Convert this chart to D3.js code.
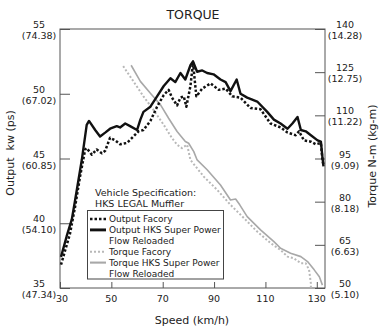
<!DOCTYPE html>
<html>
<head>
<meta charset="utf-8">
<script src="https://cdn.jsdelivr.net/npm/d3@7"></script>
<style>
  html, body { margin: 0; padding: 0; background: #fff; }
  svg text { font-family: "DejaVu Sans", Verdana, sans-serif; fill: #222; }
</style>
</head>
<body>
<svg id="chart" width="385" height="330"></svg>
<script>
// Output (kW) vs speed (km/h)
const outFactorySpeed = [30.4,32.0,33.9,35.9,37.8,39.8,40.4,42.4,44.3,46.3,47.6,49.5,51.5,53.4,56.1,58.6,60.6,62.5,65.2,67.8,70.4,72.3,73.6,75.6,76.9,78.2,79.2,80.8,81.8,83.1,85.4,88.6,91.8,94.5,97.1,100.3,104.2,108.1,112.0,115.9,118.6,121.8,123.1,125.0,127.7,129.6,131.6,132.2,132.6];
const outFactoryKw    = [36.8,37.9,39.2,41.3,43.6,45.7,45.8,45.3,45.7,45.4,45.6,46.6,46.4,46.1,46.2,46.7,47.1,47.2,47.9,49.0,49.9,50.3,49.7,49.1,49.7,49.8,49.0,50.6,52.4,49.8,50.4,50.8,50.3,50.4,49.8,49.7,48.9,48.8,47.7,47.4,47.0,46.8,47.1,46.4,46.3,46.1,46.2,44.9,44.5];

const outHksSpeed = [30.4,32.6,34.6,35.9,38.5,40.4,41.3,43.7,45.6,47.6,49.5,52.1,53.4,55.4,57.3,60.0,61.3,62.5,65.2,67.8,70.4,73.0,74.9,76.9,78.8,80.8,81.8,83.4,85.4,87.3,89.8,92.5,94.5,96.4,98.8,100.3,102.9,106.8,110.7,113.3,115.9,118.6,120.5,122.5,123.8,125.7,127.7,130.3,131.6,132.2,132.6];
const outHksKw    = [37.4,39.0,40.3,41.8,44.9,47.6,47.9,47.2,46.7,47.0,47.3,47.5,47.4,47.7,47.5,47.2,48.0,48.6,49.0,49.8,50.6,51.2,50.9,51.6,51.1,52.2,52.5,51.7,51.8,51.6,51.5,51.1,50.9,50.2,51.1,50.0,49.7,49.4,48.6,48.0,47.7,47.3,47.7,48.2,47.2,47.1,46.8,46.4,46.3,45.1,44.4];

// Torque (N-m) vs speed (km/h)
const torqueFactorySpeed = [54.6,58.6,62.5,66.4,70.4,73.6,75.6,77.5,79.5,80.8,86.0,91.2,96.4,101.6,106.8,112.0,115.9,118.6,121.1,123.8,125.7,127.0,127.7,127.7];
const torqueFactoryNm    = [127.1,121.8,116.6,111.9,106.7,102.1,99.8,98.6,99.8,94.5,88.7,84.1,78.9,74.3,69.6,65.6,63.2,60.9,60.3,58.6,58.6,56.3,51.6,50.0];

const torqueHksSpeed = [57.7,61.3,65.2,69.1,72.3,75.6,78.8,80.1,82.1,83.4,87.3,92.5,96.4,98.4,100.0,102.9,108.1,113.3,115.9,119.8,123.8,126.4,129.0,131.0,132.2];
const torqueHksNm    = [127.4,121.8,117.7,113.7,109.0,104.4,100.9,100.3,97.4,94.5,91.1,85.8,80.6,80.9,78.9,74.8,70.2,66.1,63.8,62.1,60.9,59.2,56.3,53.9,51.0];

// Axis ticks
const speedTicks = [30, 50, 70, 90, 110, 130];
const kwTicks = [35, 40, 45, 50, 55];
const psLabels = ["(47.34)", "(54.10)", "(60.85)", "(67.02)", "(74.38)"];
const nmTicks = [50, 65, 80, 95, 110, 125, 140];
const kgmLabels = ["(5.10)", "(6.63)", "(8.18)", "(9.09)", "(11.22)", "(12.75)", "(14.28)"];

const legendTitle = ["Vehicle Specification:", "HKS LEGAL Muffler"];
const legendItems = [
  ["Output Facory"],
  ["Output HKS Super Power", "Flow Reloaded"],
  ["Torque Facory"],
  ["Torque HKS Super Power", "Flow Reloaded"]
];

const svg = d3.select("#chart");
const plotLeft = 60, plotRight = 325, plotTop = 29, plotBottom = 288;

const x = d3.scaleLinear().domain([30, 133.2]).range([plotLeft, plotRight]);
const yKw = d3.scaleLinear().domain([35, 55]).range([plotBottom, plotTop]);
const yNm = d3.scaleLinear().domain([50, 140]).range([plotBottom, plotTop]);

const axisColor = "#555";

// Frame
svg.append("rect")
  .attr("x", plotLeft).attr("y", plotTop)
  .attr("width", plotRight - plotLeft).attr("height", plotBottom - plotTop)
  .attr("fill", "none").attr("stroke", axisColor).attr("stroke-width", 1);

// Left axis: inward ticks, two-line labels
const gL = svg.append("g").attr("transform", `translate(${plotLeft},0)`)
  .call(d3.axisRight(yKw).tickValues(kwTicks).tickSize(10).tickFormat(""));
gL.select(".domain").remove();
gL.selectAll("line").attr("stroke", axisColor);
kwTicks.forEach((v, i) => {
  const t = svg.append("text").attr("text-anchor", "middle").attr("font-size", 9.5);
  t.append("tspan").attr("x", 39).attr("y", yKw(v) - 1).text(v);
  t.append("tspan").attr("x", 39).attr("y", yKw(v) + 10).text(psLabels[i]);
});

// Right axis
const gR = svg.append("g").attr("transform", `translate(${plotRight},0)`)
  .call(d3.axisLeft(yNm).tickValues(nmTicks).tickSize(10).tickFormat(""));
gR.select(".domain").remove();
gR.selectAll("line").attr("stroke", axisColor);
nmTicks.forEach((v, i) => {
  const t = svg.append("text").attr("text-anchor", "middle").attr("font-size", 9.5);
  t.append("tspan").attr("x", 345).attr("y", yNm(v) - 1).text(v);
  t.append("tspan").attr("x", 345).attr("y", yNm(v) + 10).text(kgmLabels[i]);
});

// Bottom axis
const gB = svg.append("g").attr("transform", `translate(0,${plotBottom})`)
  .call(d3.axisTop(x).tickValues(speedTicks).tickSize(6).tickFormat(""));
gB.select(".domain").remove();
gB.selectAll("line").attr("stroke", axisColor);
svg.append("g").selectAll("text").data(speedTicks).join("text")
  .attr("x", d => x(d) + (d === 30 ? 2 : 0)).attr("y", 302)
  .attr("text-anchor", "middle").attr("font-size", 9.5)
  .text(d => d);

// Titles
svg.append("text").attr("x", 193).attr("y", 19).attr("text-anchor", "middle")
  .attr("font-size", 12.5).text("TORQUE");
svg.append("text").attr("x", 192).attr("y", 324).attr("text-anchor", "middle")
  .attr("font-size", 11).text("Speed (km/h)");
svg.append("text").attr("transform", "translate(14,153) rotate(-90)")
  .attr("text-anchor", "middle").attr("font-size", 11).attr("xml:space", "preserve")
  .text("Output  kw (ps)");
svg.append("text").attr("transform", "translate(376,156) rotate(-90)")
  .attr("text-anchor", "middle").attr("font-size", 11)
  .text("Torque N-m (kg-m)");

// Series
const toPts = (xs, ys) => xs.map((s, i) => [s, ys[i]]);
const lineKw = d3.line().x(d => x(d[0])).y(d => yKw(d[1]));
const lineNm = d3.line().x(d => x(d[0])).y(d => yNm(d[1]));

const series = [
  { pts: toPts(torqueFactorySpeed, torqueFactoryNm), gen: lineNm, color: "#b8b8b8", w: 2, dash: "2,2" },
  { pts: toPts(torqueHksSpeed, torqueHksNm), gen: lineNm, color: "#a8a8a8", w: 1.6, dash: null },
  { pts: toPts(outFactorySpeed, outFactoryKw), gen: lineKw, color: "#111", w: 2.5, dash: "2.5,2" },
  { pts: toPts(outHksSpeed, outHksKw), gen: lineKw, color: "#111", w: 2.4, dash: null }
];
series.forEach(s => {
  svg.append("path").attr("d", s.gen(s.pts))
    .attr("fill", "none").attr("stroke", s.color).attr("stroke-width", s.w)
    .attr("stroke-linejoin", "round")
    .attr("stroke-dasharray", s.dash);
});

// Legend
legendTitle.forEach((t, i) => {
  svg.append("text").attr("x", 95).attr("y", 196 + i * 11)
    .attr("font-size", 9.5).text(t);
});
svg.append("rect").attr("x", 87.5).attr("y", 210.5).attr("width", 136).attr("height", 68.5)
  .attr("fill", "#fff").attr("stroke", "#444").attr("stroke-width", 1);

const legendStyles = [series[2], series[3], series[0], series[1]];
let row = 0;
legendItems.forEach((lines, i) => {
  const st = legendStyles[i];
  const yy = 219 + row * 10.9;
  svg.append("line").attr("x1", 90).attr("x2", 106).attr("y1", yy).attr("y2", yy)
    .attr("stroke", st.color).attr("stroke-width", st.w + (st.dash ? 0 : 0.5))
    .attr("stroke-dasharray", st.dash);
  lines.forEach((t, j) => {
    svg.append("text").attr("x", 109).attr("y", yy + 3.3 + j * 10.9)
      .attr("font-size", 9).text(t);
  });
  row += lines.length;
});
</script>
</body>
</html>
